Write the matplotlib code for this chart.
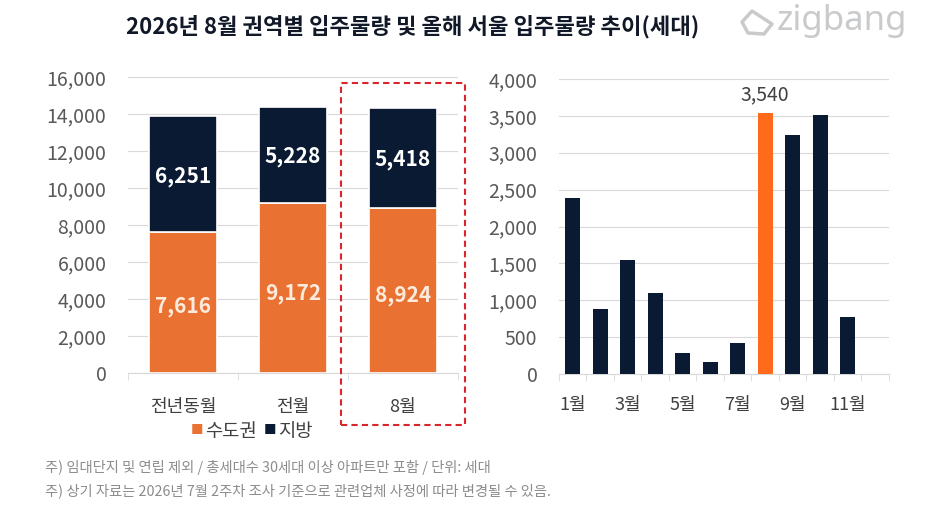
import matplotlib
matplotlib.use("Agg")
import matplotlib.pyplot as plt
from matplotlib.patches import Rectangle, Polygon
import numpy as np

plt.rcParams['font.family'] = ['Noto Sans CJK KR', 'DejaVu Sans']

# ---- data ----
left_categories = ['전년동월', '전월', '8월']
capital_values = [7616, 9172, 8924]   # 수도권
local_values = [6251, 5228, 5418]     # 지방

months = ['1월', '2월', '3월', '4월', '5월', '6월', '7월', '8월', '9월', '10월', '11월', '12월']
seoul_values = [2390, 880, 1550, 1100, 280, 160, 425, 3540, 3240, 3510, 770, 0]
highlight_month = '8월'

title = '2026년 8월 권역별 입주물량 및 올해 서울 입주물량 추이(세대)'
notes = ['주) 임대단지 및 연립 제외 / 총세대수 30세대 이상 아파트만 포함 / 단위: 세대',
         '주) 상기 자료는 2026년 7월 2주차 조사 기준으로 관련업체 사정에 따라 변경될 수 있음.']

ORANGE_L = '#E97132'
ORANGE_R = '#FF6B1A'
NAVY = '#0B1A33'
TICK = '#595959'
GRID = '#D9D9D9'

fig = plt.figure(figsize=(9.29, 5.22), dpi=100)
W, H = 929, 522

def ax_rect(x0, y0, x1, y1):
    return [x0 / W, 1 - y1 / H, (x1 - x0) / W, (y1 - y0) / H]

# ---- left chart ----
axL = fig.add_axes(ax_rect(128, 77, 458, 373))
x = np.arange(len(left_categories))
bw = 0.61
axL.bar(x, capital_values, bw, color=ORANGE_L, edgecolor='white', linewidth=1.2, zorder=3)
axL.bar(x, local_values, bw, bottom=capital_values, color=NAVY, edgecolor='white', linewidth=1.2, zorder=3)
for i in range(len(x)):
    axL.text(x[i], capital_values[i] * 0.47, f'{capital_values[i]:,}', ha='center', va='center',
             color='#FDEBDD', fontsize=15, fontweight='bold', zorder=4)
    axL.text(x[i], capital_values[i] + local_values[i] * 0.485, f'{local_values[i]:,}', ha='center', va='center',
             color='white', fontsize=15, fontweight='bold', zorder=4)
axL.set_xlim(-0.5, len(x) - 0.5)
axL.set_ylim(0, 16000)
axL.set_yticks(np.arange(0, 16001, 2000))
axL.set_yticklabels([f'{v:,}' for v in range(0, 16001, 2000)])
axL.yaxis.grid(True, color=GRID, linewidth=0.8, zorder=0)
axL.set_xticks(x)
axL.set_xticklabels(left_categories)
axL.set_xticks(np.arange(-0.5, len(x), 1.0), minor=True)
axL.tick_params(axis='x', which='major', length=0, pad=18, labelsize=13, labelcolor='#404040')
axL.tick_params(axis='x', which='minor', length=5, color=GRID)
axL.tick_params(axis='y', length=0, pad=15.5, labelsize=14, labelcolor=TICK)
for s in ['top', 'right', 'left']:
    axL.spines[s].set_visible(False)
axL.spines['bottom'].set_color(GRID)

# red dashed highlight box
fig.patches.append(Rectangle((341.5 / W, 1 - 425 / H), (465 - 341.5) / W, (425 - 83) / H,
                             transform=fig.transFigure, fill=False, edgecolor='#D9262C',
                             linestyle=(0, (3, 2)), linewidth=1.5, zorder=5))

# legend
fig.text(197 / W, 1 - 431 / H, '■', color=ORANGE_L, fontsize=9, ha='center', va='center')
fig.text(205 / W, 1 - 431 / H, '수도권', color='#404040', fontsize=13.5, ha='left', va='center')
fig.text(270 / W, 1 - 431 / H, '■', color=NAVY, fontsize=9, ha='center', va='center')
fig.text(278 / W, 1 - 431 / H, '지방', color='#404040', fontsize=13.5, ha='left', va='center')

# ---- right chart ----
axR = fig.add_axes(ax_rect(559, 79, 889, 374))
xr = np.arange(len(months))
colors = [ORANGE_R if m == highlight_month else NAVY for m in months]
axR.bar(xr, seoul_values, 0.55, color=colors, zorder=3)
hi = months.index(highlight_month)
axR.text(xr[hi], seoul_values[hi] + 110, f'{seoul_values[hi]:,}', ha='center', va='bottom',
         color='#404040', fontsize=14)
axR.set_xlim(-0.5, len(months) - 0.5)
axR.set_ylim(0, 4000)
axR.set_yticks(np.arange(0, 4001, 500))
axR.set_yticklabels([f'{v:,}' for v in range(0, 4001, 500)])
axR.yaxis.grid(True, color=GRID, linewidth=0.8, zorder=0)
axR.set_xticks(xr[::2])
axR.set_xticklabels(months[::2])
axR.set_xticks(np.arange(-0.5, len(months), 1.0), minor=True)
axR.tick_params(axis='x', which='major', length=0, pad=16, labelsize=13, labelcolor='#404040')
axR.tick_params(axis='x', which='minor', length=5, color=GRID)
axR.tick_params(axis='y', length=0, pad=15.5, labelsize=14, labelcolor=TICK)
for s in ['top', 'right', 'left']:
    axR.spines[s].set_visible(False)
axR.spines['bottom'].set_color(GRID)

# ---- title & logo ----
fig.text(413 / W, 1 - 27 / H, title, ha='center', va='center', fontsize=16, fontweight='bold', color='#111827')
fig.text(777 / W, 1 - 21 / H, 'zigbang', ha='left', va='center', fontsize=25, fontweight='bold',
         color='#C8CACC', family=['Noto Sans', 'DejaVu Sans'])
logo_pts = [(742, 22), (752, 11), (772, 24), (764, 34), (748, 33)]
fig.patches.append(Polygon([(px / W, 1 - py / H) for px, py in logo_pts], closed=True,
                           transform=fig.transFigure, fill=False, edgecolor='#C8CACC',
                           linewidth=2.5, joinstyle='round'))

# ---- notes ----
fig.text(45 / W, 1 - 467 / H, notes[0], ha='left', va='center', fontsize=10.3, color='#8C8C8C')
fig.text(45 / W, 1 - 491 / H, notes[1], ha='left', va='center', fontsize=10.3, color='#8C8C8C')

fig.savefig('out.png', dpi=100)
